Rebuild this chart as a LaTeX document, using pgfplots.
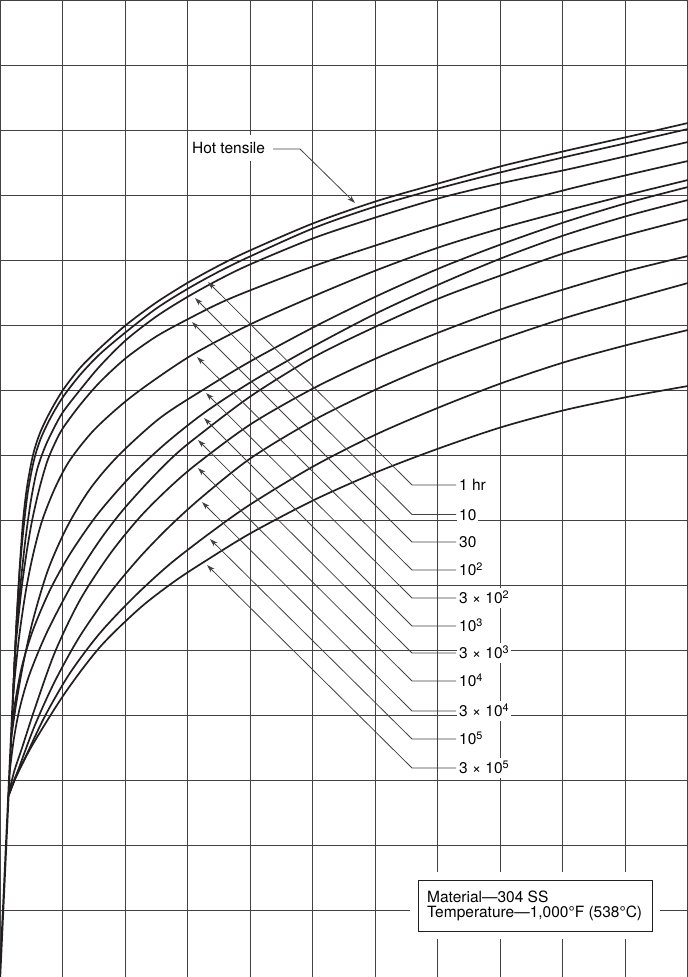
\documentclass[border=0pt]{standalone}
\usepackage{fontspec}
\setmainfont{TeX Gyre Heros}
\usepackage{pgfplots}
\pgfplotsset{compat=1.18}
\usetikzlibrary{arrows.meta}
\definecolor{ink}{HTML}{231F20}
\newcommand\lab{\fontsize{15.5bp}{15bp}\selectfont}
\begin{document}
\begin{tikzpicture}
\begin{axis}[
 width=688bp, height=977bp, scale only axis,
 xmin=0, xmax=688, ymin=0, ymax=977, y dir=reverse,
 axis line style={draw=none},
 xtick={0,62.5,...,687.5}, ytick={0,65,...,910},
 xticklabels={}, yticklabels={},
 tick label style={inner sep=0pt},
 major tick length=0pt,
 grid=major, grid style={line width=0.9bp, color=ink!85},
 cv/.style={ink, line width=1.7bp, smooth, tension=0.5, no marks, solid},
 el/.style={ink, line width=2.2bp, no marks, solid},
]
% common elastic line
\addplot[el] coordinates {(0,977)(13,697)};
% Hot tensile
\addplot[cv] coordinates {(13,697)(16,632)(18,595)(20,563)(23,521)(27,487)(33,455)(40,433)(50,412)(63,390)(80,368)(100,348)(126,325)(157,302)(189,282)(220,265)(251,250)(314,223)(377,201)(440,183)(502,166)(565,151)(627,137)(688,123)};
% 1 hr
\addplot[cv] coordinates {(13,697)(16,632)(18,597)(20,566)(24,524)(28,491)(34,460)(41,438)(51,417)(63,397)(80,375)(100,354)(126,332)(157,308)(189,288)(220,271)(251,256)(314,228)(377,206)(440,188)(502,172)(565,157)(627,143)(688,129)};
% 10
\addplot[cv] coordinates {(13,697)(16,635)(19,600)(22,570)(26,535)(31,500)(37,470)(45,447)(54,428)(63,412)(80,390)(100,366)(126,340)(157,316)(189,296)(220,279)(251,264)(314,238)(377,217)(440,198)(502,183)(565,170)(627,156)(688,142)};
% 30
\addplot[cv] coordinates {(13,697)(15,655)(18,622)(22,585)(27,550)(32,521)(39,490)(47,462)(55,443)(63,428)(80,405)(100,382)(126,358)(157,336)(192,317)(220,303)(251,290)(314,266)(377,245)(440,225)(502,207)(565,190)(627,175)(688,161)};
% 10^2
\addplot[cv] coordinates {(13,697)(16,665)(20,630)(26,590)(33,555)(42,521)(55,488)(70,460)(94,430)(126,401)(160,376)(197,352)(251,324)(314,296)(377,270)(440,247)(502,228)(565,211)(627,195)(688,180)};
% 3x10^2
\addplot[cv] coordinates {(11,740)(16,705)(23,665)(33,620)(48,570)(67,527)(90,489)(118,456)(160,418)(206,388)(251,361)(314,327)(377,296)(440,268)(502,244)(565,222)(627,203)(688,187)};
% 10^3
\addplot[cv] coordinates {(11.5,730)(15,703)(22,666)(33,630)(50,590)(70,554)(97,515)(130,477)(165,444)(204,413)(251,382)(314,346)(377,313)(440,284)(502,258)(565,235)(627,216)(688,200)};
% 3x10^3
\addplot[cv] coordinates {(9.5,773)(14,738)(20,707)(30,673)(48,630)(75,579)(100,540)(123,510)(150,480)(175,455)(198,436)(251,396)(314,357)(377,326)(440,298)(502,275)(565,253)(627,235)(688,219)};
% 10^4
\addplot[cv] coordinates {(8.5,795)(14,772)(22,748)(35,708)(55,652)(80,600)(110,554)(140,517)(170,487)(198,463)(251,424)(314,388)(377,358)(440,332)(502,309)(565,289)(627,271)(688,256)};
% 3x10^4
\addplot[cv] coordinates {(8.5,796)(20,765)(35,725)(55,681)(80,636)(110,593)(140,557)(170,526)(202,497)(251,458)(314,420)(377,389)(440,362)(502,339)(565,318)(627,300)(688,283)};
% 10^5
\addplot[cv] coordinates {(8.5,796)(15,778)(25,758)(45,716)(70,673)(100,633)(135,596)(170,564)(210,533)(251,504)(314,466)(377,434)(440,407)(502,383)(565,362)(627,345)(688,330)};
% 3x10^5
\addplot[cv] coordinates {(8,797)(17,775)(33,744)(65,693)(100,647)(140,608)(175,581)(207,560)(251,533)(314,500)(377,472)(440,448)(502,427)(565,410)(627,397)(688,386)};

% annotations
\begin{scope}[every node/.style={font=\lab, fill=white, inner xsep=2bp, inner ysep=4bp, anchor=base west, text height=11.5bp, text depth=0bp}]
\node[inner ysep=7bp] at (axis cs:190,154) {Hot tensile};
\node at (axis cs:457,490.6) {1 hr};
\node at (axis cs:457,520.1) {10};
\node at (axis cs:457,547.6) {30};
\node at (axis cs:457,575.6) {10\textsuperscript{2}};
\node at (axis cs:457,603.6) {3 × 10\textsuperscript{2}};
\node at (axis cs:457,631.6) {10\textsuperscript{3}};
\node at (axis cs:457,658.6) {3 × 10\textsuperscript{3}};
\node at (axis cs:457,686.6) {10\textsuperscript{4}};
\node at (axis cs:457,716.6) {3 × 10\textsuperscript{4}};
\node at (axis cs:457,744.6) {10\textsuperscript{5}};
\node at (axis cs:457,773.6) {3 × 10\textsuperscript{5}};
\end{scope}
\begin{scope}[ink!85, line width=0.8bp, -{Stealth[length=8bp,width=5bp]}]
\draw (axis cs:273,149) -- (axis cs:300,149) -- (axis cs:355,203);
\draw (axis cs:456,485) -- (axis cs:412,485) -- (axis cs:208,282);
\draw (axis cs:456,514.5) -- (axis cs:412,514.5) -- (axis cs:195,298);
\draw (axis cs:456,542) -- (axis cs:412,542) -- (axis cs:192,322);
\draw (axis cs:456,570) -- (axis cs:412,570) -- (axis cs:197,357);
\draw (axis cs:456,598) -- (axis cs:412,598) -- (axis cs:206,393);
\draw (axis cs:456,626) -- (axis cs:412,626) -- (axis cs:204,418);
\draw (axis cs:456,653) -- (axis cs:412,653) -- (axis cs:198,440);
\draw (axis cs:456,681) -- (axis cs:412,681) -- (axis cs:198,468);
\draw (axis cs:456,711) -- (axis cs:412,711) -- (axis cs:202,502);
\draw (axis cs:456,739) -- (axis cs:412,739) -- (axis cs:210,539);
\draw (axis cs:456,768) -- (axis cs:412,768) -- (axis cs:207,565);
\end{scope}
\fill[white] (axis cs:410,872) rectangle (axis cs:660,939);
\draw[ink, line width=0.9bp, fill=white] (axis cs:418,880) rectangle (axis cs:652,931);
\node[font=\lab, anchor=base west, inner sep=0pt] at (axis cs:427,902.7) {Material---304 SS};
\node[font=\lab, anchor=base west, inner sep=0pt] at (axis cs:427,917.7) {Temperature---1,000°F (538°C)};
\end{axis}
\pgfresetboundingbox
\path (current axis.south west) rectangle (current axis.north east);
\end{tikzpicture}
\end{document}
